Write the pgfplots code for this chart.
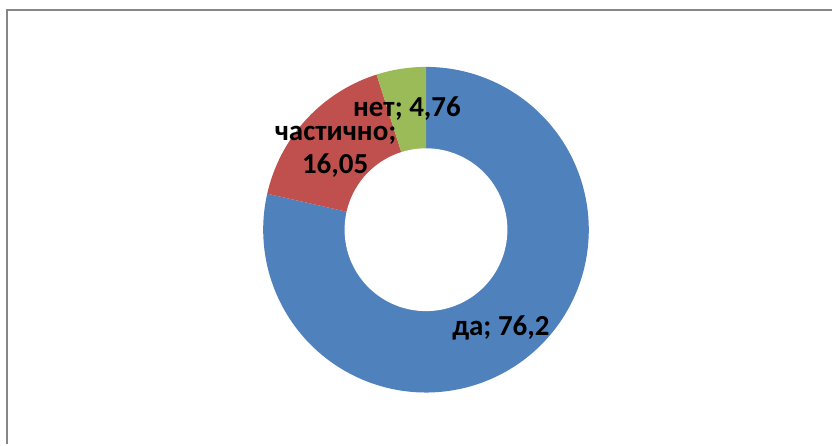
\documentclass[border=0pt]{standalone}
\usepackage{fontspec}
\setmainfont{Carlito}
\usepackage{pgfplots}
\usepackage{pgfplotstable}
\pgfplotsset{compat=1.18}
\definecolor{cda}{HTML}{4F81BD}
\definecolor{cchast}{HTML}{C0504D}
\definecolor{cnet}{HTML}{9BBB59}
\definecolor{frame}{HTML}{878787}
\pgfplotstableread{
label value
da 76.2
chast 16.05
net 4.76
}\piedata
\pgfplotstablegetelem{0}{value}\of\piedata \let\va\pgfplotsretval
\pgfplotstablegetelem{1}{value}\of\piedata \let\vb\pgfplotsretval
\pgfplotstablegetelem{2}{value}\of\piedata \let\vc\pgfplotsretval
\pgfmathsetmacro{\tot}{\va+\vb+\vc}
\pgfmathsetmacro{\aA}{90}
\pgfmathsetmacro{\aB}{90-360*(\va/\tot)}
\pgfmathsetmacro{\aC}{\aB-360*(\vb/\tot)}
\pgfmathsetmacro{\aD}{\aC-360*(\vc/\tot)}
\def\cx{426.5}
\def\cy{215}
\def\R{163}
\def\r{81.5}
\begin{document}
\begin{tikzpicture}
\begin{axis}[
  scale only axis, width=833pt, height=445pt,
  xmin=0, xmax=833, ymin=0, ymax=445,
  axis lines=none, clip=false,
]
\path[fill=white] (0,0) rectangle (833,445);
\addplot[fill=cda, draw=none, domain=\aB:\aA, samples=200] ({\cx+\R*cos(x)},{\cy+\R*sin(x)}) -- (\cx,\cy) -- cycle;
\addplot[fill=cchast, draw=none, domain=\aC:\aB, samples=60] ({\cx+\R*cos(x)},{\cy+\R*sin(x)}) -- (\cx,\cy) -- cycle;
\addplot[fill=cnet, draw=none, domain=\aD:\aC, samples=30] ({\cx+\R*cos(x)},{\cy+\R*sin(x)}) -- (\cx,\cy) -- cycle;
\addplot[fill=white, draw=none, domain=0:360, samples=200] ({\cx+\r*cos(x)},{\cy+\r*sin(x)});
\addplot[draw=frame, line width=2pt] coordinates {(7,0) (7,435) (833,435)};
\begin{scope}[every node/.style={font=\fontsize{29}{33}\selectfont\bfseries, anchor=base, inner sep=0pt}]
\node[text depth=0pt] at (407.5,328.5) {нет; 4,76};
\node at (336,304.5) {частично;};
\node at (335.5,271) {16,05};
\node at (501.5,109) {да; 76,2};
\end{scope}
\end{axis}
\end{tikzpicture}
\end{document}
